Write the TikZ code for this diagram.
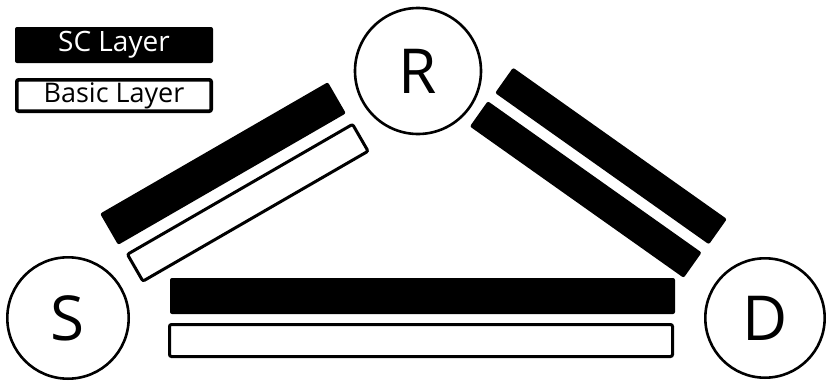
\documentclass[tikz,border=0pt]{standalone}
\usepackage{fontspec}
\setmainfont{Open Sans}
\usetikzlibrary{positioning,calc}
\definecolor{ink}{HTML}{000000}
\tikzset{
  station/.style={circle,draw=ink,line width=1.3pt,fill=white,inner sep=0pt,font=\fontsize{31}{31}\selectfont},
  scbar/.style={fill=ink,rounded corners=1pt,inner sep=0pt},
  basicbar/.style={draw=ink,fill=white,line width=1.5pt,rounded corners=1pt,inner sep=0pt},
  keytext/.style={font=\fontsize{#1}{#1}\selectfont},
}
\begin{document}
\begin{tikzpicture}[x=0.5pt,y=-0.5pt]
  \useasboundingbox (0,0) rectangle (827,381);
  % legend
  \node[scbar,minimum width=99pt,minimum height=18pt,text=white,keytext=14] (sckey) at (114,45) {SC Layer};
  \node[basicbar,line width=1.8pt,minimum width=97.2pt,minimum height=15.7pt,keytext=13.5] (basickey) at (114,95.5) {Basic Layer};
  % S--R link
  \node[scbar,minimum width=131.5pt,minimum height=18pt,rotate=30] (sr1) at (223,163.5) {};
  \node[basicbar,minimum width=130pt,minimum height=15.5pt,rotate=30] (sr2) at (247.75,202.75) {};
  % R--D link
  \node[scbar,minimum width=131pt,minimum height=15.5pt,rotate=-35.3] (rd1) at (611,156) {};
  \node[scbar,minimum width=131pt,minimum height=15.5pt,rotate=-35.3] (rd2) at (585.75,189.5) {};
  % S--D link
  \node[scbar,minimum width=252.5pt,minimum height=18pt] (sd1) at (422.5,296) {};
  \node[basicbar,minimum width=251.5pt,minimum height=16pt] (sd2) at (421,340.5) {};
  % nodes
  \node[station,minimum size=60.7pt] (S) at (68,318) {S};
  \node[station,minimum size=63pt] (R) at (418,71) {R};
  \node[station,minimum size=59.7pt] (D) at (765,318) {D};
\end{tikzpicture}
\end{document}
